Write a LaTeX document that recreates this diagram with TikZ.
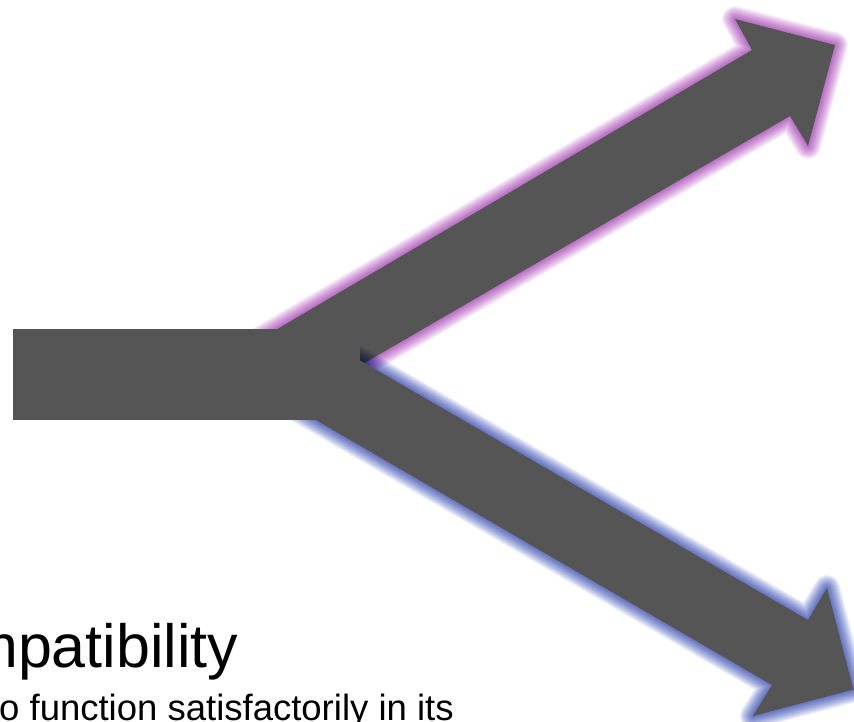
\documentclass[tikz,border=0pt]{standalone}
\usepackage{fontspec}
\setmainfont{Liberation Sans}
\definecolor{arrowgray}{HTML}{555555}
\definecolor{glowpink}{HTML}{D08CDA}
\definecolor{glowblue}{HTML}{8091D7}
\tikzset{
  glowstroke/.style={draw=#1, line join=round, draw opacity=0.13},
  branchfill/.style={fill=arrowgray},
}
\begin{document}
\begin{tikzpicture}[x=1pt,y=-1pt]
\useasboundingbox (0,0) rectangle (854,721);
\clip (0,0) rectangle (854,721);

% upper branch outline
\coordinate (u1) at (262,338);
\coordinate (u2) at (752,50);
\coordinate (u3) at (735,19);
\coordinate (u4) at (835,45);
\coordinate (u5) at (808,146);
\coordinate (u6) at (790,116);
\coordinate (u7) at (330,383);
% lower branch outline
\coordinate (l1) at (330,343);
\coordinate (l2) at (808,620);
\coordinate (l3) at (827,588);
\coordinate (l4) at (853.4,689.5);
\coordinate (l5) at (753,716);
\coordinate (l6) at (772,685);
\coordinate (l7) at (290,405);

\begin{scope}[blend mode=multiply]
  % soft pink glow around the upper branch
  \foreach \w in {26,24,...,2}
    \draw[glowstroke=glowpink, line width=\w pt]
      (u1) -- (u2) -- (u3) -- (u4) -- (u5) -- (u6) -- (u7) -- cycle;
\end{scope}
\fill[branchfill] (u1) -- (u2) -- (u3) -- (u4) -- (u5) -- (u6) -- (u7) -- cycle;

\begin{scope}[blend mode=multiply]
  % soft blue glow around the lower branch
  \foreach \w in {26,24,...,2}
    \draw[glowstroke=glowblue, line width=\w pt]
      (l1) -- (l2) -- (l3) -- (l4) -- (l5) -- (l6) -- (l7) -- cycle;
\end{scope}
\fill[branchfill] (l1) -- (l2) -- (l3) -- (l4) -- (l5) -- (l6) -- (l7) -- cycle;

% trunk of the split arrow
\fill[branchfill] (13,329) rectangle (360,420);

% heading and body text
\node[anchor=base west, inner sep=0pt, font=\fontsize{61}{70}\selectfont]
  (title) at (-33,667) {mpatibility};
\node[anchor=base west, inner sep=0pt, font=\fontsize{36.5}{42}\selectfont]
  (body) at (-1,720) {o function satisfactorily in its};
\end{tikzpicture}
\end{document}
